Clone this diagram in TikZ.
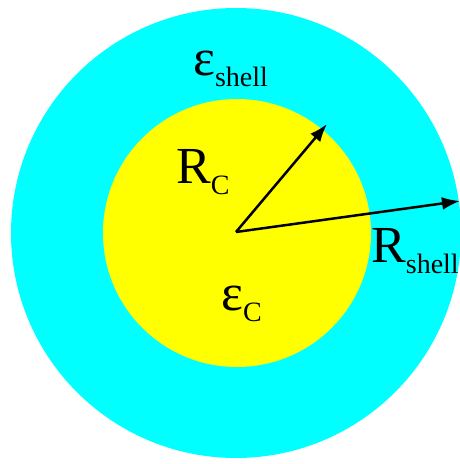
\documentclass[tikz,border=0pt]{standalone}
\usepackage{fontspec}
\setmainfont{Liberation Serif}
\usetikzlibrary{arrows.meta}
\definecolor{shellcyan}{RGB}{0,255,255}
\definecolor{coreyellow}{RGB}{255,255,0}
\newcommand{\sublab}[2]{#1\raisebox{-11pt}{\fontsize{28}{30}\selectfont #2}}
\tikzset{
  disc/.style={circle, inner sep=0pt, draw=none},
  lab/.style={anchor=base west, inner sep=0pt, font=\fontsize{52}{60}\selectfont},
  radarrow/.style={line width=2.5pt, -{Latex[length=18pt,width=13pt]}}
}
\begin{document}
\begin{tikzpicture}[x=1pt,y=-1pt]
\useasboundingbox (0,0) rectangle (460,464);
\fill[white] (0,0) rectangle (460,464);
\node[disc, fill=shellcyan, minimum size=450pt] (shell) at (236,233) {};
\node[disc, fill=coreyellow, minimum size=268pt] (core) at (237,233) {};
\coordinate (o) at (236,232);
\coordinate (tc) at (327,124);
\coordinate (ts) at (460,201);
\draw[radarrow] (o) -- (tc);
\draw[radarrow] (o) -- (ts);
\node[lab] (eshell) at (193,75) {\sublab{ε}{shell}};
\node[lab] (rc) at (176,183) {\sublab{R}{C}};
\node[lab] (rshell) at (371,262) {\sublab{R}{shell}};
\node[lab] (ec) at (221,310) {\sublab{ε}{C}};
\end{tikzpicture}
\end{document}
